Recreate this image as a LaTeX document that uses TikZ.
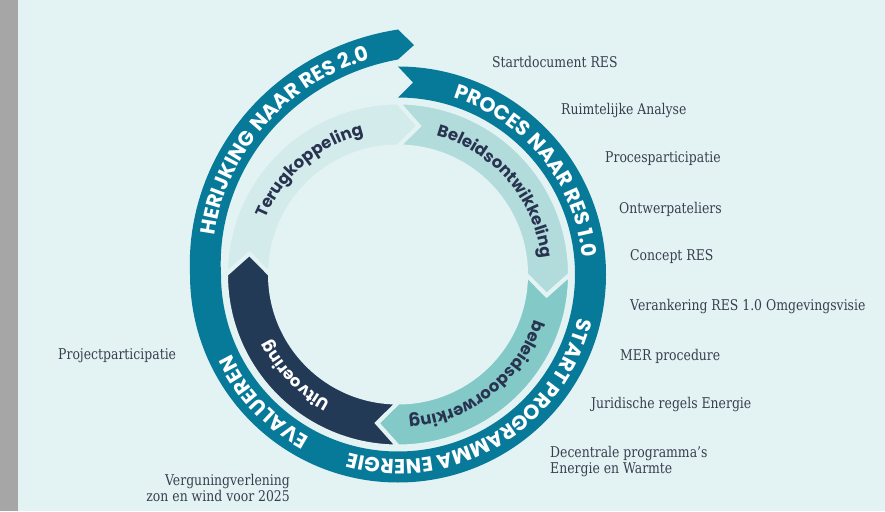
\documentclass[tikz,border=0pt]{standalone}
\usepackage{fontspec}
\setmainfont{DejaVu Serif}[FakeStretch=0.84]
\newfontfamily\ringfont{Poppins}
\usetikzlibrary{decorations.text}

\definecolor{bgc}{HTML}{E3F3F4}
\definecolor{barc}{HTML}{A6A6A6}
\definecolor{bandc}{HTML}{087A99}
\definecolor{terugc}{HTML}{D4EBEB}
\definecolor{ontwc}{HTML}{B2DCDC}
\definecolor{doorwc}{HTML}{83C9C7}
\definecolor{uitvc}{HTML}{233A56}
\definecolor{inkc}{HTML}{283350}
\definecolor{labelc}{HTML}{383E4E}

\newcommand{\bandfont}{\ringfont\bfseries\fontsize{20.5}{24}\selectfont}
\newcommand{\segfont}{\ringfont\bfseries\fontsize{16.5}{18}\selectfont}

\tikzset{
  lbl/.style={color=labelc, font=\fontsize{14.8}{16}\selectfont, inner sep=0pt, anchor=west},
  seg/.style={draw=bgc, line width=4pt, line join=miter},
  bandtext/.style={decorate, decoration={text along path, text align=center, text color=white}},
  segtext/.style={decorate, decoration={text along path, text align=center, text color=inkc}}
}

\begin{document}
\begin{tikzpicture}[x=1pt, y=1pt, declare function={sp(\t)=((180-\t)/90)*(0.4+0.6*(180-\t)/90);}]
\useasboundingbox (-398,-236.5) rectangle (487,274.5);
\fill[bgc] (-398,-236.5) rectangle (487,274.5);
\fill[barc] (-398,-236.5) rectangle (-380,274.5);

% outer band, one turn, going out at the top
\fill[bandc] (90:208) arc[start angle=90, end angle=-180, radius=208]
  -- plot[domain=180:90, samples=46, variable=\a] ({\a}:{208+37*sp(\a)})
  -- (86:230) -- (90:215)
  -- plot[domain=90:180, samples=46, variable=\a] ({\a}:{177+38*sp(\a)})
  arc[start angle=180, end angle=450, radius=177]
  -- (85.5:192.5) -- cycle;

% inner ring
\filldraw[seg, fill=terugc] (180:172) arc[start angle=180, end angle=90, radius=172] -- (82:150) -- (90:128) arc[start angle=90, end angle=180, radius=128] -- (172:150) -- cycle;
\filldraw[seg, fill=ontwc] (90:172) arc[start angle=90, end angle=0, radius=172] -- (-8:150) -- (0:128) arc[start angle=0, end angle=90, radius=128] -- (82:150) -- cycle;
\filldraw[seg, fill=doorwc] (0:172) arc[start angle=0, end angle=-90, radius=172] -- (-98:150) -- (-90:128) arc[start angle=-90, end angle=0, radius=128] -- (-8:150) -- cycle;
\filldraw[seg, fill=uitvc] (-90:172) arc[start angle=-90, end angle=-180, radius=172] -- (-188:150) -- (-180:128) arc[start angle=-180, end angle=-90, radius=128] -- (-98:150) -- cycle;

% band texts
\path[bandtext, decoration={text={|\bandfont|PROCES NAAR RES 1.0}}] (84:185) arc[start angle=84, end angle=-6, radius=185];
\path[bandtext, decoration={text={|\bandfont|START PROGRAMMA ENERGIE}}] (0.5:185) arc[start angle=0.5, end angle=-119.5, radius=185];
\path[bandtext, decoration={text={|\bandfont|EVALUEREN}}] (-106.5:185) arc[start angle=-106.5, end angle=-166.5, radius=185];
\path[bandtext, decoration={text={|\bandfont|HERIJKING NAAR RES 2.0}}] plot[domain=184:84, samples=50, variable=\a] ({\a}:{185+37*sp(\a)});

% segment texts
\path[segtext, decoration={text={|\segfont|Terugkoppeling}}] (175.5:144) arc[start angle=175.5, end angle=85.5, radius=144];
\path[segtext, decoration={text={|\segfont|Beleidsontwikkeling}}] (90.5:144) arc[start angle=90.5, end angle=-9.5, radius=144];
\path[segtext, decoration={text={|\segfont|beleidsdoorwerking}}] (-2:144) arc[start angle=-2, end angle=-102, radius=144];
\path[segtext, decoration={text={|\segfont|Uitvoering}, text color=white}] (-95.5:144) arc[start angle=-95.5, end angle=-175.5, radius=144];

% steps
\node[lbl] (L1) at (94,212.5) {Startdocument RES};
\node[lbl] (L2) at (163,163.5) {Ruimtelijke Analyse};
\node[lbl] (L3) at (207,115.5) {Procesparticipatie};
\node[lbl] (L4) at (221,65.5) {Ontwerpateliers};
\node[lbl] (L5) at (232,17.5) {Concept RES};
\node[lbl] (L6) at (232,-32.5) {Verankering RES 1.0 Omgevingsvisie};
\node[lbl] (L7) at (222,-81.5) {MER procedure};
\node[lbl] (L8) at (193,-130.5) {Juridische regels Energie};
\node[lbl, align=left] (L9) at (152,-187.5) {Decentrale programma’s\\Energie en Warmte};
\node[lbl] (L10) at (-340,-81.5) {Projectparticipatie};
\node[lbl, anchor=east, align=right] (L11) at (-108,-213) {Verguningverlening\\zon en wind voor 2025};
\end{tikzpicture}
\end{document}
